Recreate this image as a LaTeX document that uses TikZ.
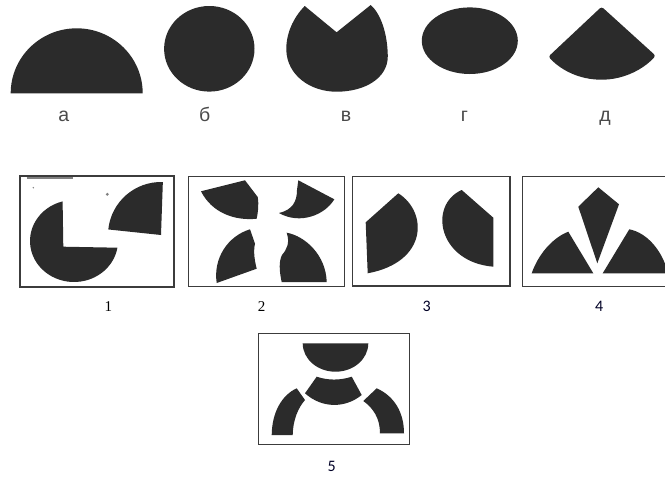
\documentclass[tikz,border=0pt]{standalone}
\usepackage{fontspec}
\newfontfamily\labfont{Liberation Sans}
\newfontfamily\numserif{Liberation Serif}
\newfontfamily\numsans{Carlito}
\definecolor{ink}{HTML}{2B2B2B}
\definecolor{framec}{HTML}{3C3C3C}
\definecolor{labc}{HTML}{4A4A4A}
\tikzset{
  piece/.style={fill=ink},
  panel/.style={draw=framec,line width=1.5pt},
  letterlab/.style={anchor=base,inner sep=0pt,text=labc,font=\labfont\fontsize{19.5}{20}\selectfont},
  numlab/.style={anchor=base,inner sep=0pt,text=black,font=\numserif\fontsize{15}{16}\selectfont},
  numlabb/.style={anchor=base,inner sep=0pt,text=black!85!blue,font=\numsans\fontsize{16}{17}\selectfont}
}
\begin{document}
\begin{tikzpicture}[x=1pt,y=1pt,yscale=-1]
\clip (0,0) rectangle (665,477);
\fill[white] (0,0) rectangle (665,477);
% ---------- top row ----------
% a: half ellipse
\fill[piece] (142.7,93.3) arc[start angle=0,end angle=-180,x radius=66,y radius=65] -- cycle;
% b: ellipse
\fill[piece] (209.3,48.8) ellipse[x radius=45.2,y radius=42.8];
% v: egg with notch
\fill[piece] (304.7,6) .. controls (293,18) and (286,34) .. (286.3,50)
  .. controls (287,75) and (310,91.7) .. (336.6,91.7)
  .. controls (365,91.7) and (388,78) .. (387.8,56)
  .. controls (387.5,34) and (381,14) .. (370.7,5)
  -- (336.6,32.3) -- cycle;
% g: ellipse
\fill[piece] (469.8,40.7) ellipse[x radius=48,y radius=33.3];
% d: sector
\fill[piece,rounded corners=2.5pt] (601.6,6.7) -- ++(136.8:73) arc[start angle=136.8,end angle=42.2,radius=73] -- cycle;
\node[letterlab] (la) at (63.9,121.7) {а};
\node[letterlab] (lb) at (204.6,121.7) {б};
\node[letterlab] (lv) at (346,121.7) {в};
\node[letterlab] (lg) at (464.5,121.7) {г};
\node[letterlab] (ld) at (605,121.7) {д};
% ---------- frame 1 ----------
\draw[panel] (20,176) rectangle (174,287);
\draw[gray,line width=2.2pt] (26.7,177.6) -- (73.3,177.6);
\fill[ink] (74,241) ++(255:44 and 41) arc[start angle=255,end angle=9.4,x radius=44,y radius=41] -- (63.3,246.7) -- cycle;
\fill[ink] (161,235) -- ++(186:53) arc[start angle=186,end angle=272,radius=53] -- cycle;
\fill[gray] (107.3,194.3) circle[radius=1.6];
\fill[gray] (33.3,187.7) circle[radius=0.8];
\node[numlab] (n1) at (108.3,311.7) {1};
% ---------- frame 2 ----------
\draw[panel] (188.3,176.7) rectangle (344.7,286.7);
\fill[piece] (201,191.3) -- (245,180.3) -- (257.7,197)
  .. controls (259,205) and (258,212) .. (256.7,218.7)
  .. controls (235,221) and (212,213) .. (201,191.3) -- cycle;
\fill[piece] (250,229.3) -- (255,243.7)
  .. controls (253,252) and (255,262) .. (256.7,268.7)
  -- (216.7,283)
  .. controls (213,258) and (228,236) .. (250,229.3) -- cycle;
\fill[piece] (298.3,180.3) -- (334.3,199.3)
  .. controls (325,215) and (300,225) .. (279,213)
  .. controls (292,210) and (297,202) .. (297,190) -- cycle;
\fill[piece] (286.7,232.7) .. controls (305,236) and (326,255) .. (326.7,282)
  -- (281.7,282)
  .. controls (279,270) and (279,261) .. (282,255)
  .. controls (287,249) and (290,243) .. (286.7,232.7) -- cycle;
\node[numlab] (n2) at (261.7,311.7) {2};
% ---------- frame 3 ----------
\draw[panel] (352.3,176.7) rectangle (510,286);
\fill[piece] (367.7,273.3) -- (365.7,222.3) -- (398.3,193.3)
  .. controls (428,212) and (428,262) .. (367.7,273.3) -- cycle;
\fill[piece] (461.7,190) -- (493.3,217.7) -- (493.3,266.7)
  .. controls (438,262) and (428,205) .. (461.7,190) -- cycle;
\node[numlabb] (n3) at (426.7,311.7) {3};
% ---------- frame 4 ----------
\draw[panel] (522.7,176.7) rectangle (675,286.7);
\fill[piece] (598.3,187.3) -- (619,204.3) -- (597.3,263.3) -- (578.3,206.7) -- cycle;
\fill[piece] (568.3,231.7) -- (593.3,273.3) -- (531.7,273.3)
  .. controls (538,255) and (552,238) .. (568.3,231.7) -- cycle;
\fill[piece] (629.3,229.3) .. controls (648,233) and (663,252) .. (668,273.3)
  -- (602.7,273.3) -- cycle;
\node[numlabb] (n4) at (599.3,311.7) {4};
% ---------- frame 5 ----------
\draw[panel] (258.3,333.3) rectangle (409.3,444.3);
\fill[piece] (368.3,343.3) arc[start angle=0,end angle=180,x radius=32.8,y radius=28.4] -- cycle;
\fill[piece] (316.7,376.7) .. controls (328,380.5) and (340,380.5) .. (351.7,376.7)
  -- (361.7,395) .. controls (345,408.5) and (322,408.5) .. (305,393.3) -- cycle;
\fill[piece] (296.7,388.3) .. controls (282,395) and (272,412) .. (271.7,435)
  -- (292.7,435) .. controls (293,420) and (298,408) .. (305,400) -- cycle;
\fill[piece] (376.7,388.3) .. controls (394,396) and (404,412) .. (404,433.3)
  -- (380,433.3) .. controls (380,418) and (373,408) .. (363.3,401) -- cycle;
\node[numlabb] (n5) at (331.7,471.7) {5};
\end{tikzpicture}
\end{document}
